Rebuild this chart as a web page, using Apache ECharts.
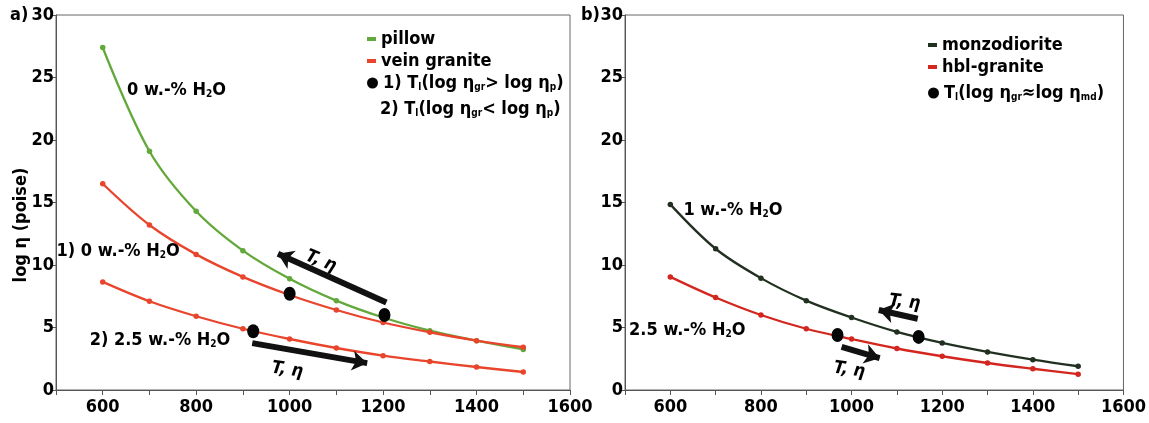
<!DOCTYPE html>
<html>
<head>
<meta charset="utf-8">
<script src="https://cdn.jsdelivr.net/npm/echarts@6/dist/echarts.min.js"></script>
<style>html,body{margin:0;padding:0;background:#fff}#c{width:1149px;height:423px}</style>
</head>
<body>
<div id="c"></div>
<script>
// ---- data ----
const temps = [600, 700, 800, 900, 1000, 1100, 1200, 1300, 1400, 1500];
const pillow0 = [27.4, 19.1, 14.3, 11.15, 8.9, 7.15, 5.8, 4.75, 3.95, 3.25];
const veinGranite0 = [16.5, 13.2, 10.85, 9.05, 7.6, 6.4, 5.4, 4.62, 3.95, 3.42];
const veinGranite25 = [8.65, 7.1, 5.9, 4.9, 4.08, 3.36, 2.75, 2.28, 1.84, 1.44];
const monzodiorite1 = [14.85, 11.3, 8.95, 7.15, 5.8, 4.65, 3.77, 3.05, 2.43, 1.9];
const hblGranite25 = [9.05, 7.4, 6.0, 4.9, 4.08, 3.32, 2.7, 2.16, 1.7, 1.27];
const dotsA = [[1000, 7.7], [1203, 6.0], [922, 4.7]];
const dotsB = [[969, 4.4], [1148, 4.25]];
const arrowsA = [[[1207, 7.0], [975, 10.9]], [[920, 3.75], [1166, 2.15]]];
const arrowsB = [[[1146, 5.7], [1060, 6.4]], [[978, 3.45], [1062, 2.55]]];
const xTicks = [600, 800, 1000, 1200, 1400, 1600];
const yTicks = [0, 5, 10, 15, 20, 25, 30];
// annotation texts: [x, y, text, rotate]
const notesA = [
  [652, 24.0, '0 w.-% H{s|2}O', 0],
  [501, 11.1, '1) 0 w.-% H{s|2}O', 0],
  [572, 4.0, '2) 2.5 w.-% H{s|2}O', 0],
  [1067, 10.3, 'T, η', -22],
  [995, 1.6, 'T, η', -8]
];
const notesB = [
  [629, 14.4, '1 w.-% H{s|2}O', 0],
  [509, 4.8, '2.5 w.-% H{s|2}O', 0],
  [1117, 7.0, 'T, η', -6],
  [995, 1.6, 'T, η', -8]
];

const FONT = "'Liberation Sans Narrow','DejaVu Sans Condensed','Liberation Sans',sans-serif";
const FS = 18;
const GREEN = '#62a83a', RED = '#e8452c', RED2 = '#d3261e', DARK = '#223021';
const rich = {
  s: {fontFamily: FONT, fontWeight: 'bold', fontSize: 10, color: '#000', padding: [8, 0, 0, 0]}
};

function xAxis(idx) {
  return {
    type: 'value', gridIndex: idx, min: 500, max: 1600, interval: 100,
    axisLine: {lineStyle: {color: '#555', width: 1}},
    axisTick: {length: 5, lineStyle: {color: '#555'}},
    splitLine: {show: false},
    axisLabel: {
      showMaxLabel: true, margin: 8,
      fontFamily: FONT, fontWeight: 'bold', fontSize: FS, color: '#000',
      formatter: v => xTicks.includes(v) ? String(v) : ''
    }
  };
}
function yAxis(idx) {
  return {
    type: 'value', gridIndex: idx, min: 0, max: 30, interval: 5,
    axisLine: {show: true, lineStyle: {color: '#555', width: 1}},
    axisTick: {show: true, length: 4, lineStyle: {color: '#555'}},
    splitLine: {show: false},
    axisLabel: {
      margin: 2, fontFamily: FONT, fontWeight: 'bold', fontSize: FS, color: '#000',
      formatter: v => yTicks.includes(v) ? String(v) : ''
    }
  };
}
function curve(name, ys, color, idx) {
  return {
    type: 'line', name: name, xAxisIndex: idx, yAxisIndex: idx,
    data: temps.map((t, i) => [t, ys[i]]),
    smooth: 0.35, symbol: 'circle', symbolSize: 5.5, showSymbol: true,
    itemStyle: {color: color}, lineStyle: {color: color, width: 2.3}, z: 3
  };
}
function arrows(list, idx) {
  return {
    type: 'lines', coordinateSystem: 'cartesian2d', xAxisIndex: idx, yAxisIndex: idx,
    symbol: ['none', 'arrow'], symbolSize: 15,
    lineStyle: {color: '#111', width: 6, opacity: 1},
    data: list.map(c => ({coords: c})), z: 5, silent: true
  };
}
function notes(list, idx) {
  return {
    type: 'scatter', xAxisIndex: idx, yAxisIndex: idx, symbolSize: 0, silent: true,
    itemStyle: {opacity: 1},
    data: list.map(n => ({
      value: [n[0], n[1]],
      label: {
        show: true, position: n[3] ? 'inside' : 'right', distance: 0,
        rotate: n[3], formatter: n[2], opacity: 1,
        fontFamily: FONT, fontWeight: 'bold', fontSize: FS, color: '#000',
        fontStyle: n[3] ? 'italic' : 'normal',
        rich: rich
      }
    })), z: 6
  };
}
function dots(name, list, idx) {
  return {
    type: 'scatter', name: name, xAxisIndex: idx, yAxisIndex: idx,
    data: list, symbol: 'circle', symbolSize: [12, 14],
    itemStyle: {color: '#050505', opacity: 1}, z: 7
  };
}

const legendText = {fontFamily: FONT, fontWeight: 'bold', fontSize: FS, color: '#000', rich: rich};
const chart = echarts.init(document.getElementById('c'), null, {renderer: 'canvas'});
chart.setOption({
  backgroundColor: '#fff',
  animation: false,
  grid: [
    {left: 56, right: 579, top: 15, bottom: 33, show: true, borderColor: '#666', borderWidth: 1},
    {left: 625, right: 12, top: 15, bottom: 33, show: true, borderColor: '#666', borderWidth: 1}
  ],
  xAxis: [xAxis(0), xAxis(1)],
  yAxis: [yAxis(0), yAxis(1)],
  legend: [
    {data: ['pillow', 'vein granite'], orient: 'vertical', left: 362, top: 25,
     itemWidth: 9, itemHeight: 4, itemGap: 4, icon: 'rect', textStyle: legendText},
    {data: ['Tl_a'], orient: 'vertical', left: 362, top: 69, itemWidth: 11, itemHeight: 13, icon: 'circle',
     itemGap: 3, formatter: () => '1) T{s|l}(log η{s|gr}> log η{s|p})', textStyle: legendText},
    {data: ['monzodiorite', 'hbl-granite'], orient: 'vertical', left: 923, top: 31,
     itemWidth: 9, itemHeight: 4, itemGap: 4, icon: 'rect', textStyle: legendText},
    {data: ['Tl_b'], orient: 'vertical', left: 923, top: 79, itemWidth: 11, itemHeight: 13, icon: 'circle',
     formatter: () => 'T{s|l}(log η{s|gr}≈log η{s|md})', textStyle: legendText}
  ],
  graphic: [
    {type: 'text', left: 10, top: 6, style: {text: 'a)', fontFamily: FONT, fontWeight: 'bold', fontSize: FS, fill: '#000'}},
    {type: 'text', left: 581, top: 6, style: {text: 'b)', fontFamily: FONT, fontWeight: 'bold', fontSize: FS, fill: '#000'}},
    {type: 'text', x: 21, y: 225, rotation: Math.PI / 2,
     style: {text: 'log η (poise)', fontFamily: FONT, fontWeight: 'bold', fontSize: FS, fill: '#000', align: 'center', verticalAlign: 'middle'}},
    {type: 'text', left: 380, top: 100,
     style: {text: '2) T{s|l}(log η{s|gr}< log η{s|p})', fontFamily: FONT, fontWeight: 'bold', fontSize: FS, fill: '#000', rich: rich}}
  ],
  series: [
    curve('pillow', pillow0, GREEN, 0),
    curve('vein granite', veinGranite0, RED, 0),
    curve('vein granite', veinGranite25, RED, 0),
    dots('Tl_a', dotsA, 0),
    arrows(arrowsA, 0),
    notes(notesA, 0),
    curve('monzodiorite', monzodiorite1, DARK, 1),
    curve('hbl-granite', hblGranite25, RED2, 1),
    dots('Tl_b', dotsB, 1),
    arrows(arrowsB, 1),
    notes(notesB, 1)
  ]
});
</script>
</body>
</html>
